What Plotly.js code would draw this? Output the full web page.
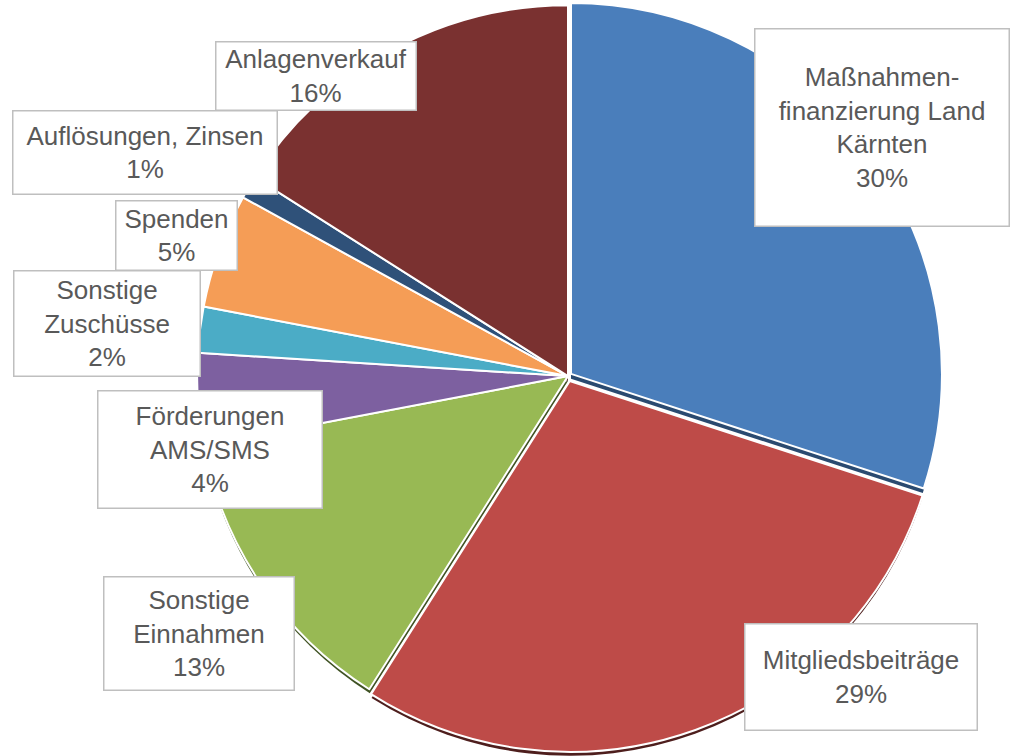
<!DOCTYPE html>
<html>
<head>
<meta charset="utf-8">
<script src="https://cdn.plot.ly/plotly-3.0.1.min.js"></script>
<style>html,body{margin:0;padding:0;background:#fff;}#chart{width:1015px;height:756px;}</style>
</head>
<body>
<div id="chart"></div>
<script>
var categories = ["Maßnahmen-<br>finanzierung Land<br>Kärnten", "Mitgliedsbeiträge", "Sonstige<br>Einnahmen", "Förderungen<br>AMS/SMS", "Sonstige<br>Zuschüsse", "Spenden", "Auflösungen, Zinsen", "Anlagenverkauf"];
var shares = [30, 29, 13, 4, 2, 5, 1, 16];
var sliceColors = ["#4a7ebb", "#be4b48", "#98b954", "#7d60a0", "#4bacc6", "#f59d56", "#2f5179", "#7a3130"];
var shadowColors = ["#2a4a70", "#4e1e1d", "#3f5223", "#4a3862", "#2b6676", "#94592f", "#1a2d45", "#461b1a"];
var pulls = [0.01, 0.014, 0, 0, 0, 0, 0, 0];

// label box geometry (pixels): [centerX, centerY, width, height]
var boxes = [[881.5,127,255,198],[860.5,676.5,233,107],[198.5,633,191,114],[209.5,449,225,118],[106.5,323,187,106],[176,235,122,70],[144.5,153,265,84],[315.5,76.5,201,69]];

var W = 1015, H = 756;
var cx = 568, cy = 376, rEff = 371;
var r = rEff * (1 + Math.max.apply(null, pulls));
function dom(dy){
  var y0 = Math.max(0, (H-(cy+dy)-r)/H), y1 = Math.min(1, (H-(cy+dy)+r)/H);
  return {x:[(cx-r)/W,(cx+r)/W], y:[y0, y1]};
}

var shadow = {
  type:'pie', values:shares, labels:categories, sort:false, direction:'clockwise', rotation:0,
  marker:{colors:shadowColors, line:{width:0}}, pull:pulls, textinfo:'none', hoverinfo:'skip',
  domain:dom(6), showlegend:false
};
var main = {
  type:'pie', values:shares, labels:categories, sort:false, direction:'clockwise', rotation:0,
  marker:{colors:sliceColors, line:{color:'#ffffff', width:2}}, pull:pulls, textinfo:'none', hoverinfo:'label+percent',
  domain:dom(0), showlegend:false
};

var total = shares.reduce(function(a,b){return a+b;},0);
var annotations = categories.map(function(c,i){
  var b = boxes[i];
  return {
    xref:'paper', yref:'paper', x:b[0]/W, y:1-b[1]/H, xanchor:'center', yanchor:'middle',
    text: c + '<br>' + Math.round(shares[i]/total*100) + '%',
    showarrow:false, align:'center', valign:'middle',
    width:b[2]-2, height:b[3]-2, borderpad:0, borderwidth:1.5, bordercolor:'#bfbfbf', bgcolor:'#ffffff',
    font:{family:'"Liberation Sans", Arial, sans-serif', size:26, color:'#595959'}
  };
});

Plotly.newPlot('chart', [shadow, main], {
  width:W, height:H, margin:{l:0,r:0,t:0,b:0}, paper_bgcolor:'#fff', showlegend:false,
  annotations:annotations
}, {displayModeBar:false, staticPlot:true});
</script>
</body>
</html>
